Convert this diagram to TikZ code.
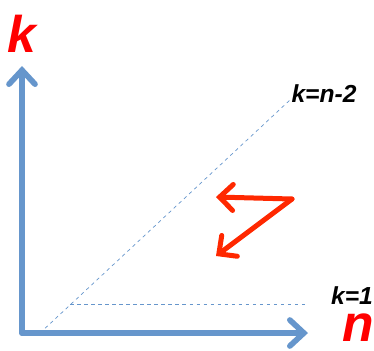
\documentclass[tikz,border=0pt]{standalone}
\usepackage{fontspec}
\setmainfont{Liberation Sans}
\usepackage{tikz}
\usetikzlibrary{arrows.meta, positioning}
\definecolor{axisblue}{RGB}{102, 150, 204}
\definecolor{hotred}{RGB}{255, 40, 0}

\begin{document}
\begin{tikzpicture}[
    x=0.03cm, y=-0.03cm,
    axis/.style={draw=axisblue, line width=0.17cm, line cap=round,
                 -{Straight Barb[length=0.42cm, width=0.78cm, line cap=round]}},
    guide/.style={draw=axisblue, dashed, line width=0.6pt},
    turn/.style={draw=hotred, line width=0.15cm, line cap=round,
                 -{Straight Barb[length=0.4cm, width=0.78cm, line cap=round]}},
    axlabel/.style={text=red, font=\fontsize{44}{44}\bfseries\itshape, inner sep=0pt},
    linelabel/.style={font=\fontsize{21}{21}\bfseries\itshape, inner sep=0pt}
]
    \useasboundingbox (0,0) rectangle (374,350);
    \coordinate (origin) at (22,333);
    \coordinate (ytip) at (22,66);
    \coordinate (xtip) at (308,333);
    \coordinate (diagstart) at (40,333);
    \coordinate (diagend) at (291,99);
    \coordinate (flatstart) at (70,304);
    \coordinate (flatend) at (308,304);
    \coordinate (bend) at (292,199);
    \coordinate (tipleft) at (216,197);
    \coordinate (tipdown) at (216,256);

    % dashed guide lines
    \draw[guide] (diagstart) -- (diagend);
    \draw[guide] (flatstart) -- (flatend);

    % axes
    \draw[axis] (origin) -- (ytip);
    \draw[axis] (origin) -- (xtip);

    % turning arrows
    \draw[turn] (bend) -- (tipleft);
    \draw[turn] (bend) -- (tipdown);

    \node[axlabel] (klabel) at (22,34) {k};
    \node[axlabel] (nlabel) at (358,328) {n};
    \node[linelabel] (diaglabel) at (324,94) {k=n-2};
    \node[linelabel] (flatlabel) at (352,296) {k=1};
\end{tikzpicture}
\end{document}
